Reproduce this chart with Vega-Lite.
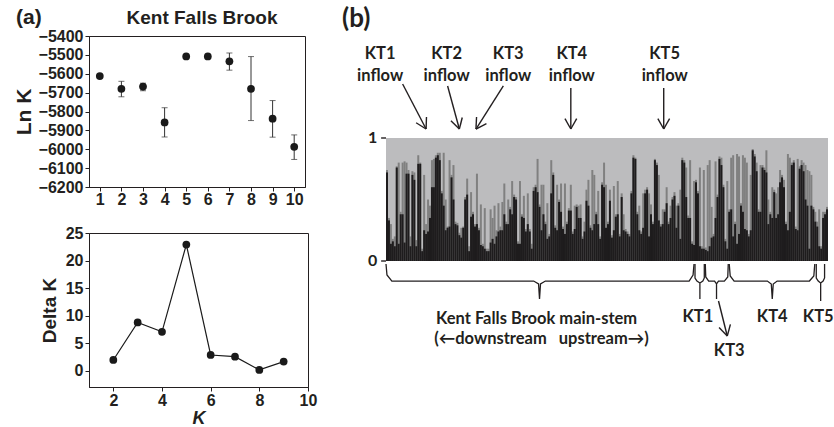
{
"$schema": "https://vega.github.io/schema/vega-lite/v6.json",
"autosize": {"type": "pad"},
"padding": {"left": 12, "top": 6, "right": 0, "bottom": 0},
"background": "white",
"columns": 2,
"spacing": {"row": 46, "column": 73},
"bounds": "flush",
"align": "each",
"datasets": {
"lnk": [
{"K":1,"v":-5612,"lo":null,"hi":null},
{"K":2,"v":-5680,"lo":-5722,"hi":-5640},
{"K":3,"v":-5668,"lo":-5690,"hi":-5650},
{"K":4,"v":-5858,"lo":-5935,"hi":-5780},
{"K":5,"v":-5508,"lo":null,"hi":null},
{"K":6,"v":-5508,"lo":null,"hi":null},
{"K":7,"v":-5534,"lo":-5581,"hi":-5490},
{"K":8,"v":-5680,"lo":-5848,"hi":-5509},
{"K":9,"v":-5838,"lo":-5936,"hi":-5742},
{"K":10,"v":-5987,"lo":-6054,"hi":-5924}
],
"dk": [
{"K":2,"d":2.0},{"K":3,"d":8.8},{"K":4,"d":7.1},{"K":5,"d":22.9},{"K":6,"d":2.9},{"K":7,"d":2.6},{"K":8,"d":0.2},{"K":9,"d":1.7}
],
"bars": [
{"i":1,"b":0.72,"g":0.74},{"i":2,"b":0.33,"g":0.35},{"i":3,"b":0.14,"g":0.30},{"i":4,"b":0.16,"g":0.18},{"i":5,"b":0.12,"g":0.20},
{"i":6,"b":0.76,"g":0.77},{"i":7,"b":0.14,"g":0.80},{"i":8,"b":0.38,"g":0.40},{"i":9,"b":0.38,"g":0.80},{"i":10,"b":0.15,"g":0.81},
{"i":11,"b":0.71,"g":0.80},{"i":12,"b":0.71,"g":0.74},{"i":13,"b":0.12,"g":0.20},{"i":14,"b":0.70,"g":0.73},{"i":15,"b":0.66,"g":0.72},
{"i":16,"b":0.12,"g":0.17},{"i":17,"b":0.79,"g":0.86},{"i":18,"b":0.79,"g":0.80},{"i":19,"b":0.08,"g":0.10},{"i":20,"b":0.25,"g":0.70},
{"i":21,"b":0.22,"g":0.30},{"i":22,"b":0.24,"g":0.50},{"i":23,"b":0.35,"g":0.45},{"i":24,"b":0.60,"g":0.82},{"i":25,"b":0.60,"g":0.83},
{"i":26,"b":0.84,"g":0.86},{"i":27,"b":0.86,"g":0.88},{"i":28,"b":0.82,"g":0.88},{"i":29,"b":0.55,"g":0.57},{"i":30,"b":0.45,"g":0.88},
{"i":31,"b":0.25,"g":0.50},{"i":32,"b":0.27,"g":0.28},{"i":33,"b":0.28,"g":0.82},{"i":34,"b":0.68,"g":0.70},{"i":35,"b":0.50,"g":0.78},
{"i":36,"b":0.30,"g":0.32},{"i":37,"b":0.29,"g":0.31},{"i":38,"b":0.21,"g":0.23},{"i":39,"b":0.19,"g":0.27},{"i":40,"b":0.27,"g":0.28},
{"i":41,"b":0.50,"g":0.52},{"i":42,"b":0.54,"g":0.67},{"i":43,"b":0.08,"g":0.12},{"i":44,"b":0.36,"g":0.56},{"i":45,"b":0.38,"g":0.40},
{"i":46,"b":0.28,"g":0.30},{"i":47,"b":0.30,"g":0.71},{"i":48,"b":0.25,"g":0.27},{"i":49,"b":0.13,"g":0.46},{"i":50,"b":0.12,"g":0.14},
{"i":51,"b":0.10,"g":0.43},{"i":52,"b":0.08,"g":0.10},{"i":53,"b":0.08,"g":0.10},{"i":54,"b":0.15,"g":0.42},{"i":55,"b":0.18,"g":0.35},
{"i":56,"b":0.14,"g":0.45},{"i":57,"b":0.20,"g":0.25},{"i":58,"b":0.24,"g":0.47},{"i":59,"b":0.25,"g":0.28},{"i":60,"b":0.25,"g":0.48},
{"i":61,"b":0.38,"g":0.63},{"i":62,"b":0.30,"g":0.32},{"i":63,"b":0.30,"g":0.50},{"i":64,"b":0.42,"g":0.44},{"i":65,"b":0.38,"g":0.65},
{"i":66,"b":0.52,"g":0.54},{"i":67,"b":0.50,"g":0.52},{"i":68,"b":0.14,"g":0.16},{"i":69,"b":0.14,"g":0.65},{"i":70,"b":0.36,"g":0.38},
{"i":71,"b":0.35,"g":0.53},{"i":72,"b":0.24,"g":0.26},{"i":73,"b":0.30,"g":0.55},{"i":74,"b":0.24,"g":0.26},{"i":75,"b":0.10,"g":0.14},
{"i":76,"b":0.57,"g":0.60},{"i":77,"b":0.60,"g":0.62},{"i":78,"b":0.56,"g":0.83},{"i":79,"b":0.44,"g":0.46},{"i":80,"b":0.25,"g":0.62},
{"i":81,"b":0.38,"g":0.62},{"i":82,"b":0.30,"g":0.32},{"i":83,"b":0.18,"g":0.47},{"i":84,"b":0.20,"g":0.22},{"i":85,"b":0.55,"g":0.82},
{"i":86,"b":0.70,"g":0.72},{"i":87,"b":0.27,"g":0.29},{"i":88,"b":0.25,"g":0.62},{"i":89,"b":0.48,"g":0.50},{"i":90,"b":0.40,"g":0.63},
{"i":91,"b":0.26,"g":0.28},{"i":92,"b":0.22,"g":0.63},{"i":93,"b":0.30,"g":0.32},{"i":94,"b":0.41,"g":0.43},{"i":95,"b":0.41,"g":0.62},
{"i":96,"b":0.22,"g":0.24},{"i":97,"b":0.26,"g":0.45},{"i":98,"b":0.44,"g":0.46},{"i":99,"b":0.35,"g":0.45},{"i":100,"b":0.35,"g":0.46},
{"i":101,"b":0.18,"g":0.20},{"i":102,"b":0.24,"g":0.32},{"i":103,"b":0.49,"g":0.58},{"i":104,"b":0.45,"g":0.66},{"i":105,"b":0.27,"g":0.29},
{"i":106,"b":0.25,"g":0.74},{"i":107,"b":0.30,"g":0.70},{"i":108,"b":0.38,"g":0.40},{"i":109,"b":0.30,"g":0.57},{"i":110,"b":0.18,"g":0.20},
{"i":111,"b":0.62,"g":0.64},{"i":112,"b":0.60,"g":0.80},{"i":113,"b":0.27,"g":0.62},{"i":114,"b":0.30,"g":0.32},{"i":115,"b":0.49,"g":0.58},
{"i":116,"b":0.19,"g":0.21},{"i":117,"b":0.25,"g":0.61},{"i":118,"b":0.36,"g":0.38},{"i":119,"b":0.38,"g":0.65},{"i":120,"b":0.20,"g":0.22},
{"i":121,"b":0.52,"g":0.55},{"i":122,"b":0.25,"g":0.38},{"i":123,"b":0.24,"g":0.26},{"i":124,"b":0.22,"g":0.24},{"i":125,"b":0.20,"g":0.22},
{"i":126,"b":0.55,"g":0.57},{"i":127,"b":0.84,"g":0.86},{"i":128,"b":0.83,"g":0.84},{"i":129,"b":0.38,"g":0.40},{"i":130,"b":0.25,"g":0.45},
{"i":131,"b":0.22,"g":0.24},{"i":132,"b":0.27,"g":0.55},{"i":133,"b":0.55,"g":0.58},{"i":134,"b":0.58,"g":0.60},{"i":135,"b":0.20,"g":0.55},
{"i":136,"b":0.38,"g":0.46},{"i":137,"b":0.30,"g":0.32},{"i":138,"b":0.82,"g":0.83},{"i":139,"b":0.78,"g":0.80},{"i":140,"b":0.33,"g":0.70},
{"i":141,"b":0.28,"g":0.30},{"i":142,"b":0.30,"g":0.42},{"i":143,"b":0.40,"g":0.42},{"i":144,"b":0.47,"g":0.60},{"i":145,"b":0.30,"g":0.32},
{"i":146,"b":0.35,"g":0.45},{"i":147,"b":0.50,"g":0.52},{"i":148,"b":0.53,"g":0.56},{"i":149,"b":0.27,"g":0.45},{"i":150,"b":0.45,"g":0.47},
{"i":151,"b":0.18,"g":0.58},{"i":152,"b":0.82,"g":0.84},{"i":153,"b":0.80,"g":0.82},{"i":154,"b":0.52,"g":0.76},{"i":155,"b":0.35,"g":0.37},
{"i":156,"b":0.35,"g":0.82},{"i":157,"b":0.14,"g":0.16},{"i":158,"b":0.13,"g":0.65},
{"i":159,"b":0.64,"g":0.66},{"i":160,"b":0.55,"g":0.57},{"i":161,"b":0.12,"g":0.76},{"i":162,"b":0.10,"g":0.12},{"i":163,"b":0.10,"g":0.74},
{"i":164,"b":0.09,"g":0.11},{"i":165,"b":0.08,"g":0.78},{"i":166,"b":0.12,"g":0.82},{"i":167,"b":0.19,"g":0.44},{"i":168,"b":0.20,"g":0.22},
{"i":169,"b":0.35,"g":0.81},{"i":170,"b":0.52,"g":0.54},{"i":171,"b":0.83,"g":0.85},{"i":172,"b":0.78,"g":0.84},{"i":173,"b":0.60,"g":0.62},
{"i":174,"b":0.16,"g":0.18},{"i":175,"b":0.10,"g":0.65},
{"i":176,"b":0.40,"g":0.42},{"i":177,"b":0.42,"g":0.84},{"i":178,"b":0.20,"g":0.86},{"i":179,"b":0.30,"g":0.32},{"i":180,"b":0.14,"g":0.87},
{"i":181,"b":0.22,"g":0.85},{"i":182,"b":0.45,"g":0.47},{"i":183,"b":0.40,"g":0.86},{"i":184,"b":0.26,"g":0.84},{"i":185,"b":0.25,"g":0.80},
{"i":186,"b":0.20,"g":0.22},{"i":187,"b":0.25,"g":0.70},{"i":188,"b":0.90,"g":0.91},{"i":189,"b":0.85,"g":0.87},{"i":190,"b":0.73,"g":0.80},
{"i":191,"b":0.40,"g":0.42},{"i":192,"b":0.40,"g":0.78},{"i":193,"b":0.76,"g":0.78},{"i":194,"b":0.74,"g":0.76},{"i":195,"b":0.72,"g":0.90},
{"i":196,"b":0.30,"g":0.50},{"i":197,"b":0.38,"g":0.40},{"i":198,"b":0.35,"g":0.60},{"i":199,"b":0.56,"g":0.58},{"i":200,"b":0.35,"g":0.55},
{"i":201,"b":0.38,"g":0.60},{"i":202,"b":0.64,"g":0.74},{"i":203,"b":0.68,"g":0.70},{"i":204,"b":0.60,"g":0.66},{"i":205,"b":0.30,"g":0.32},
{"i":206,"b":0.25,"g":0.87},{"i":207,"b":0.40,"g":0.84},{"i":208,"b":0.78,"g":0.80},{"i":209,"b":0.80,"g":0.82},{"i":210,"b":0.26,"g":0.28},
{"i":211,"b":0.25,"g":0.83},{"i":212,"b":0.75,"g":0.77},{"i":213,"b":0.78,"g":0.82},{"i":214,"b":0.73,"g":0.80},{"i":215,"b":0.50,"g":0.78},
{"i":216,"b":0.45,"g":0.74},{"i":217,"b":0.10,"g":0.73},{"i":218,"b":0.45,"g":0.70},{"i":219,"b":0.42,"g":0.44},{"i":220,"b":0.32,"g":0.40},
{"i":221,"b":0.28,"g":0.32},{"i":222,"b":0.12,"g":0.42},{"i":223,"b":0.10,"g":0.12},{"i":224,"b":0.35,"g":0.40},{"i":225,"b":0.38,"g":0.40},
{"i":226,"b":0.42,"g":0.44}
],
"braces": [
{"g":"M","o":1,"x":0.5,"y":-0.024},{"g":"M","o":2,"x":1,"y":-0.114},{"g":"M","o":3,"x":3.5,"y":-0.163},{"g":"M","o":4,"x":76,"y":-0.163},
{"g":"M","o":5,"x":78.5,"y":-0.187},{"g":"M","o":6,"x":79,"y":-0.309},{"g":"M","o":7,"x":79.5,"y":-0.187},{"g":"M","o":8,"x":82,"y":-0.163},
{"g":"M","o":9,"x":155.5,"y":-0.163},{"g":"M","o":10,"x":157.5,"y":-0.114},{"g":"M","o":11,"x":158,"y":-0.024},
{"g":"B1","o":1,"x":158.5,"y":-0.024},{"g":"B1","o":2,"x":158.5,"y":-0.138},{"g":"B1","o":3,"x":159.5,"y":-0.163},{"g":"B1","o":4,"x":161,"y":-0.179},
{"g":"B1","o":5,"x":161,"y":-0.309},{"g":"B1","o":6,"x":161,"y":-0.179},{"g":"B1","o":7,"x":162.5,"y":-0.163},{"g":"B1","o":8,"x":163.25,"y":-0.138},
{"g":"B1","o":9,"x":163.25,"y":-0.024},
{"g":"B3","o":1,"x":163.75,"y":-0.024},{"g":"B3","o":2,"x":164,"y":-0.130},{"g":"B3","o":3,"x":165.5,"y":-0.163},{"g":"B3","o":4,"x":168.5,"y":-0.163},
{"g":"B3","o":5,"x":169.5,"y":-0.187},{"g":"B3","o":6,"x":169.5,"y":-0.309},{"g":"B3","o":7,"x":169.5,"y":-0.187},{"g":"B3","o":8,"x":170.5,"y":-0.163},
{"g":"B3","o":9,"x":173.5,"y":-0.163},{"g":"B3","o":10,"x":175.25,"y":-0.130},{"g":"B3","o":11,"x":175.5,"y":-0.024},
{"g":"B4","o":1,"x":176,"y":-0.024},{"g":"B4","o":2,"x":176.5,"y":-0.122},{"g":"B4","o":3,"x":178.5,"y":-0.163},{"g":"B4","o":4,"x":195.5,"y":-0.163},
{"g":"B4","o":5,"x":197.5,"y":-0.187},{"g":"B4","o":6,"x":198,"y":-0.309},{"g":"B4","o":7,"x":198.5,"y":-0.187},{"g":"B4","o":8,"x":200.5,"y":-0.163},
{"g":"B4","o":9,"x":217,"y":-0.163},{"g":"B4","o":10,"x":219.25,"y":-0.122},{"g":"B4","o":11,"x":219.75,"y":-0.024},
{"g":"B5","o":1,"x":220.5,"y":-0.024},{"g":"B5","o":2,"x":220.5,"y":-0.138},{"g":"B5","o":3,"x":221.5,"y":-0.163},{"g":"B5","o":4,"x":222.75,"y":-0.179},
{"g":"B5","o":5,"x":222.75,"y":-0.325},{"g":"B5","o":6,"x":222.75,"y":-0.179},{"g":"B5","o":7,"x":224,"y":-0.163},{"g":"B5","o":8,"x":224.75,"y":-0.138},
{"g":"B5","o":9,"x":224.75,"y":-0.024}
],
"arrows": [
{"x":9,"y":1.439,"x2":21,"y2":1.073},{"x":21,"y":1.073,"x2":21.2,"y2":1.171},{"x":21,"y":1.073,"x2":15.9,"y2":1.124},
{"x":32,"y":1.423,"x2":38,"y2":1.073},{"x":38,"y":1.073,"x2":39.5,"y2":1.167},{"x":38,"y":1.073,"x2":33.7,"y2":1.141},
{"x":60.5,"y":1.423,"x2":46.5,"y2":1.073},{"x":46.5,"y":1.073,"x2":51.85,"y2":1.117},{"x":46.5,"y":1.073,"x2":46.8,"y2":1.171},
{"x":95,"y":1.407,"x2":95,"y2":1.073},{"x":95,"y":1.073,"x2":98,"y2":1.158},{"x":95,"y":1.073,"x2":92,"y2":1.158},
{"x":142.5,"y":1.407,"x2":142.5,"y2":1.073},{"x":142.5,"y":1.073,"x2":145.5,"y2":1.158},{"x":142.5,"y":1.073,"x2":139.5,"y2":1.158},
{"x":170.5,"y":-0.325,"x2":175,"y2":-0.610},{"x":175,"y":-0.610,"x2":176.6,"y2":-0.515},{"x":175,"y":-0.610,"x2":170.8,"y2":-0.540},
{"x":-2,"y":1,"x2":0.5,"y2":1},{"x":-2,"y":0,"x2":0.5,"y2":0}
],
"labels": [
{"t":"KT1","x":-2.5,"y":1.683},{"t":"inflow","x":-2.5,"y":1.504},
{"t":"KT2","x":31.5,"y":1.683},{"t":"inflow","x":31.5,"y":1.504},
{"t":"KT3","x":63,"y":1.683},{"t":"inflow","x":63,"y":1.504},
{"t":"KT4","x":95.5,"y":1.683},{"t":"inflow","x":95.5,"y":1.504},
{"t":"KT5","x":143,"y":1.683},{"t":"inflow","x":143,"y":1.504},
{"t":"Kent Falls Brook main-stem","x":77.5,"y":-0.468},
{"t":"(\u2190downstream\u00a0\u00a0\u00a0upstream\u2192)","x":80,"y":-0.634},
{"t":"KT1","x":160,"y":-0.455},
{"t":"KT4","x":198,"y":-0.455},
{"t":"KT5","x":221.5,"y":-0.455},
{"t":"KT3","x":176,"y":-0.732}
],
"ylab": [
{"t":"1","x":-4,"y":1},{"t":"0","x":-4,"y":0}
]
},
"concat": [
{
"width": 216, "height": 151,
"layer": [
{"data": {"name": "lnk"}, "mark": {"type": "rule", "color": "#333333", "strokeWidth": 1},
 "encoding": {
  "x": {"field": "K", "type": "quantitative", "scale": {"domain": [0.5, 10.5], "nice": false, "zero": false},
        "axis": {"values": [1,2,3,4,5,6,7,8,9,10], "tickCount": 30, "title": null, "labelFontSize": 16, "labelPadding": 0, "labelOverlap": false, "format": "d"}},
  "y": {"field": "lo", "type": "quantitative", "scale": {"domain": [-6200, -5400], "nice": false, "zero": false},
        "axis": {"values": [-6200,-6100,-6000,-5900,-5800,-5700,-5600,-5500,-5400], "tickCount": 30, "title": "Ln K", "titleFontSize": 21, "titlePadding": 4, "labelOverlap": false, "format": "d"}},
  "y2": {"field": "hi"}}},
{"data": {"name": "lnk"}, "mark": {"type": "tick", "orient": "horizontal", "size": 6, "thickness": 1, "color": "#333333"},
 "encoding": {"x": {"field": "K", "type": "quantitative"}, "y": {"field": "lo", "type": "quantitative"}}},
{"data": {"name": "lnk"}, "mark": {"type": "tick", "orient": "horizontal", "size": 6, "thickness": 1, "color": "#333333"},
 "encoding": {"x": {"field": "K", "type": "quantitative"}, "y": {"field": "hi", "type": "quantitative"}}},
{"data": {"name": "lnk"}, "mark": {"type": "point", "filled": true, "size": 60, "color": "#1a1a1a", "opacity": 1},
 "encoding": {"x": {"field": "K", "type": "quantitative"}, "y": {"field": "v", "type": "quantitative"}}},
{"data": {"values": [{"t": "(a)", "x": -2.88, "y": -5307}]},
 "mark": {"type": "text", "align": "left", "baseline": "middle", "fontSize": 21, "fontWeight": "bold", "font": "Liberation Sans", "color": "#231f20"},
 "encoding": {"x": {"field": "x", "type": "quantitative"}, "y": {"field": "y", "type": "quantitative"}, "text": {"field": "t"}}},
{"data": {"values": [{"t": "Kent Falls Brook", "x": 5.73, "y": -5305}]},
 "mark": {"type": "text", "align": "center", "baseline": "middle", "fontSize": 19, "fontWeight": "bold", "font": "Liberation Sans", "color": "#231f20"},
 "encoding": {"x": {"field": "x", "type": "quantitative"}, "y": {"field": "y", "type": "quantitative"}, "text": {"field": "t"}}}
]
},
{
"width": 452, "height": 151,
"view": {"stroke": null},
"layer": [
{"data": {"values": [{}]}, "mark": {"type": "rect", "color": "#bcbcbe"},
 "encoding": {
  "x": {"datum": 0.5, "type": "quantitative", "scale": {"domain": [0.5, 226.5], "nice": false, "zero": false}, "axis": null},
  "x2": {"datum": 226.5},
  "y": {"datum": 0, "type": "quantitative", "scale": {"domain": [0.60163, 1.82927], "nice": false, "zero": false}, "axis": null},
  "y2": {"datum": 1}}},
{"data": {"name": "bars"}, "mark": {"type": "bar", "color": "#808080", "width": 2, "orient": "vertical"},
 "encoding": {"x": {"field": "i", "type": "quantitative"}, "y": {"field": "g", "type": "quantitative"}, "y2": {"datum": 0}}},
{"data": {"name": "bars"}, "mark": {"type": "bar", "color": "#1e1c1d", "width": 2, "orient": "vertical"},
 "encoding": {"x": {"field": "i", "type": "quantitative"}, "y": {"field": "b", "type": "quantitative"}, "y2": {"datum": 0}}},
{"data": {"name": "braces"}, "mark": {"type": "line", "color": "#231f20", "strokeWidth": 1.3},
 "encoding": {"x": {"field": "x", "type": "quantitative"}, "y": {"field": "y", "type": "quantitative"}, "detail": {"field": "g"}, "order": {"field": "o"}}},
{"data": {"name": "arrows"}, "mark": {"type": "rule", "color": "#231f20", "strokeWidth": 1.4},
 "encoding": {"x": {"field": "x", "type": "quantitative"}, "y": {"field": "y", "type": "quantitative"}, "x2": {"field": "x2"}, "y2": {"field": "y2"}}},
{"data": {"name": "labels"}, "mark": {"type": "text", "font": "Lato", "fontWeight": "bold", "fontSize": 16.5, "color": "#231f20", "baseline": "middle", "align": "center"},
 "encoding": {"x": {"field": "x", "type": "quantitative"}, "y": {"field": "y", "type": "quantitative"}, "text": {"field": "t"}}},
{"data": {"name": "ylab"}, "mark": {"type": "text", "font": "Lato", "fontWeight": "bold", "fontSize": 16, "color": "#231f20", "baseline": "middle", "align": "right"},
 "encoding": {"x": {"field": "x", "type": "quantitative"}, "y": {"field": "y", "type": "quantitative"}, "text": {"field": "t"}}},
{"data": {"values": [{"t": "(b)", "x": -22, "y": 1.967}]},
 "mark": {"type": "text", "align": "left", "baseline": "middle", "fontSize": 26, "fontWeight": "bold", "font": "Lato", "color": "#231f20"},
 "encoding": {"x": {"field": "x", "type": "quantitative"}, "y": {"field": "y", "type": "quantitative"}, "text": {"field": "t"}}}
]
},
{
"width": 219, "height": 154,
"data": {"name": "dk"},
"layer": [
{"mark": {"type": "line", "color": "#1a1a1a", "strokeWidth": 1.2},
 "encoding": {
  "x": {"field": "K", "type": "quantitative", "scale": {"domain": [1, 10], "nice": false, "zero": false},
        "axis": {"values": [2,4,6,8,10], "tickCount": 30, "title": "K", "titleFontStyle": "italic", "titleFontSize": 18, "titlePadding": 1, "labelPadding": 1, "labelOverlap": false, "format": "d"}},
  "y": {"field": "d", "type": "quantitative", "scale": {"domain": [-2.9, 25], "nice": false, "zero": false},
        "axis": {"values": [0,5,10,15,20,25], "tickCount": 30, "title": "Delta K", "titleFontSize": 19, "titlePadding": 6, "labelOverlap": false, "format": "d"}}}},
{"mark": {"type": "point", "filled": true, "size": 60, "color": "#1a1a1a", "opacity": 1},
 "encoding": {"x": {"field": "K", "type": "quantitative"}, "y": {"field": "d", "type": "quantitative"}}}
]
}
],
"config": {
 "font": "Liberation Sans",
 "view": {"stroke": "#231f20", "strokeWidth": 1},
 "axis": {"grid": false, "domainColor": "#231f20", "tickColor": "#231f20", "labelColor": "#231f20", "titleColor": "#231f20",
          "labelFont": "Liberation Sans", "labelFontWeight": "bold", "labelFontSize": 16, "titleFont": "Liberation Sans", "titleFontWeight": "bold",
          "tickSize": 4, "labelPadding": 2, "labelFlush": false, "labelOverlap": false}
}
}
